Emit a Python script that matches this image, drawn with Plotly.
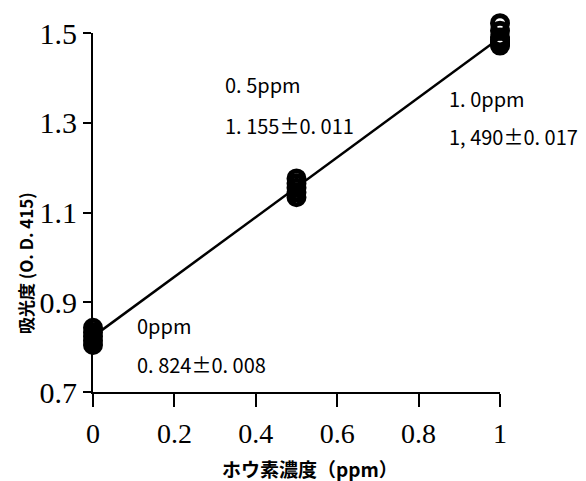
import numpy as np
import plotly.graph_objects as go

# Boron concentration (ppm) and replicate absorbance readings at 415 nm
conc_levels = [0.0, 0.5, 1.0]
abs_0ppm = [0.805, 0.815, 0.824, 0.833, 0.843]
abs_05ppm = [1.134, 1.145, 1.155, 1.165, 1.176]
abs_1ppm = [1.472, 1.476, 1.480, 1.485, 1.490, 1.505, 1.522]

# Mean absorbance per level (as printed in the labels)
mean_abs = [0.824, 1.155, 1.490]
sd_abs = [0.008, 0.011, 0.017]
level_labels = ["0ppm", "0. 5ppm", "1. 0ppm"]
value_labels = ["0. 824±0. 008", "1. 155±0. 011", "1, 490±0. 017"]

x_ticks = [0, 0.2, 0.4, 0.6, 0.8, 1]
x_tick_text = ["0", "0.2", "0.4", "0.6", "0.8", "1"]
y_ticks = [0.7, 0.9, 1.1, 1.3, 1.5]
y_tick_text = ["0.7", "0.9", "1.1", "1.3", "1.5"]

replicates = [abs_0ppm, abs_05ppm, abs_1ppm]
xs = [c for c, reps in zip(conc_levels, replicates) for _ in reps]
ys = [v for reps in replicates for v in reps]

# Least-squares calibration line through the means
slope, intercept = np.polyfit(conc_levels, mean_abs, 1)
line_x = [conc_levels[0], conc_levels[-1]]
line_y = [intercept + slope * x for x in line_x]

gothic = "Noto Sans CJK JP"
serif = "Liberation Serif"

W, H = 586, 481
ml, mr, mt, mb = 93, 86, 5, 89
pw, ph = W - ml - mr, H - mt - mb
axis_px = 359                      # pixel height of the 0.7–1.5 axis
y_lo, y_hi = 0.7, 1.5
px_per_unit = axis_px / (y_hi - y_lo)
# a hidden companion axis with the same scale but a taller domain, so the
# replicate markers above 1.5 stay visible
y2_hi = y_lo + ph / px_per_unit


def px_to_paper(px, py):
    return (px - ml) / pw, (H - mb - py) / ph


fig = go.Figure()
fig.add_trace(go.Scatter(
    x=line_x, y=line_y, mode="lines",
    line=dict(color="black", width=2.5),
    cliponaxis=False, showlegend=False, hoverinfo="skip",
))
fig.add_trace(go.Scatter(
    x=xs, y=ys, mode="markers", yaxis="y2",
    marker=dict(symbol="circle-open", size=15, color="black",
                line=dict(color="black", width=5)),
    cliponaxis=False, showlegend=False,
))

# Level / mean ± SD labels next to each cluster (left edge, vertical centre in px)
label_px = [(135, 325, 135, 364), (223, 85, 223, 126), (447, 99, 447, 136)]
annotations = []
for (lx, ly, vx, vy), lt, vt in zip(label_px, level_labels, value_labels):
    for (tx, ty), txt in (((lx, ly), lt), ((vx, vy), vt)):
        px, py = px_to_paper(tx, ty)
        annotations.append(dict(x=px, y=py, xref="paper", yref="paper", text=txt,
                                showarrow=False, xanchor="left", yanchor="middle",
                                font=dict(family=gothic, size=20, color="black")))

# Axis titles
tx, ty = px_to_paper(310, 468)
annotations.append(dict(x=tx, y=ty, xref="paper", yref="paper",
                        text="<b>ホウ素濃度（ppm）</b>", showarrow=False,
                        xanchor="center", yanchor="middle",
                        font=dict(family=gothic, size=19, color="black")))
tx, ty = px_to_paper(25, 263)
annotations.append(dict(x=tx, y=ty, xref="paper", yref="paper",
                        text="<b>吸光度 (O. D. 415)</b>", showarrow=False,
                        xanchor="center", yanchor="middle", textangle=-90,
                        font=dict(family=gothic, size=17, color="black")))

fig.update_layout(
    width=W, height=H,
    margin=dict(l=ml, r=mr, t=mt, b=mb, autoexpand=False),
    paper_bgcolor="white", plot_bgcolor="rgba(0,0,0,0)",
    annotations=annotations,
    xaxis=dict(range=[0, 1], tickvals=x_ticks, ticktext=x_tick_text,
               anchor="y", automargin=False,
               showgrid=False, zeroline=False, showline=True,
               linecolor="black", linewidth=2,
               ticks="outside", ticklen=13, tickwidth=2, tickcolor="black",
               tickfont=dict(family=serif, size=28, color="black"),
               ticklabelstandoff=2),
    yaxis=dict(range=[y_lo, y_hi], domain=[0, axis_px / ph], automargin=False,
               tickvals=y_ticks, ticktext=y_tick_text,
               showgrid=False, zeroline=False, showline=True,
               linecolor="black", linewidth=2,
               ticks="outside", ticklen=8, tickwidth=2, tickcolor="black",
               tickfont=dict(family=serif, size=30, color="black"),
               ticklabelstandoff=0),
    yaxis2=dict(range=[y_lo, y2_hi], domain=[0, 1], anchor="x", automargin=False,
                visible=False, showgrid=False, zeroline=False),
)

fig.write_html("out.html")
